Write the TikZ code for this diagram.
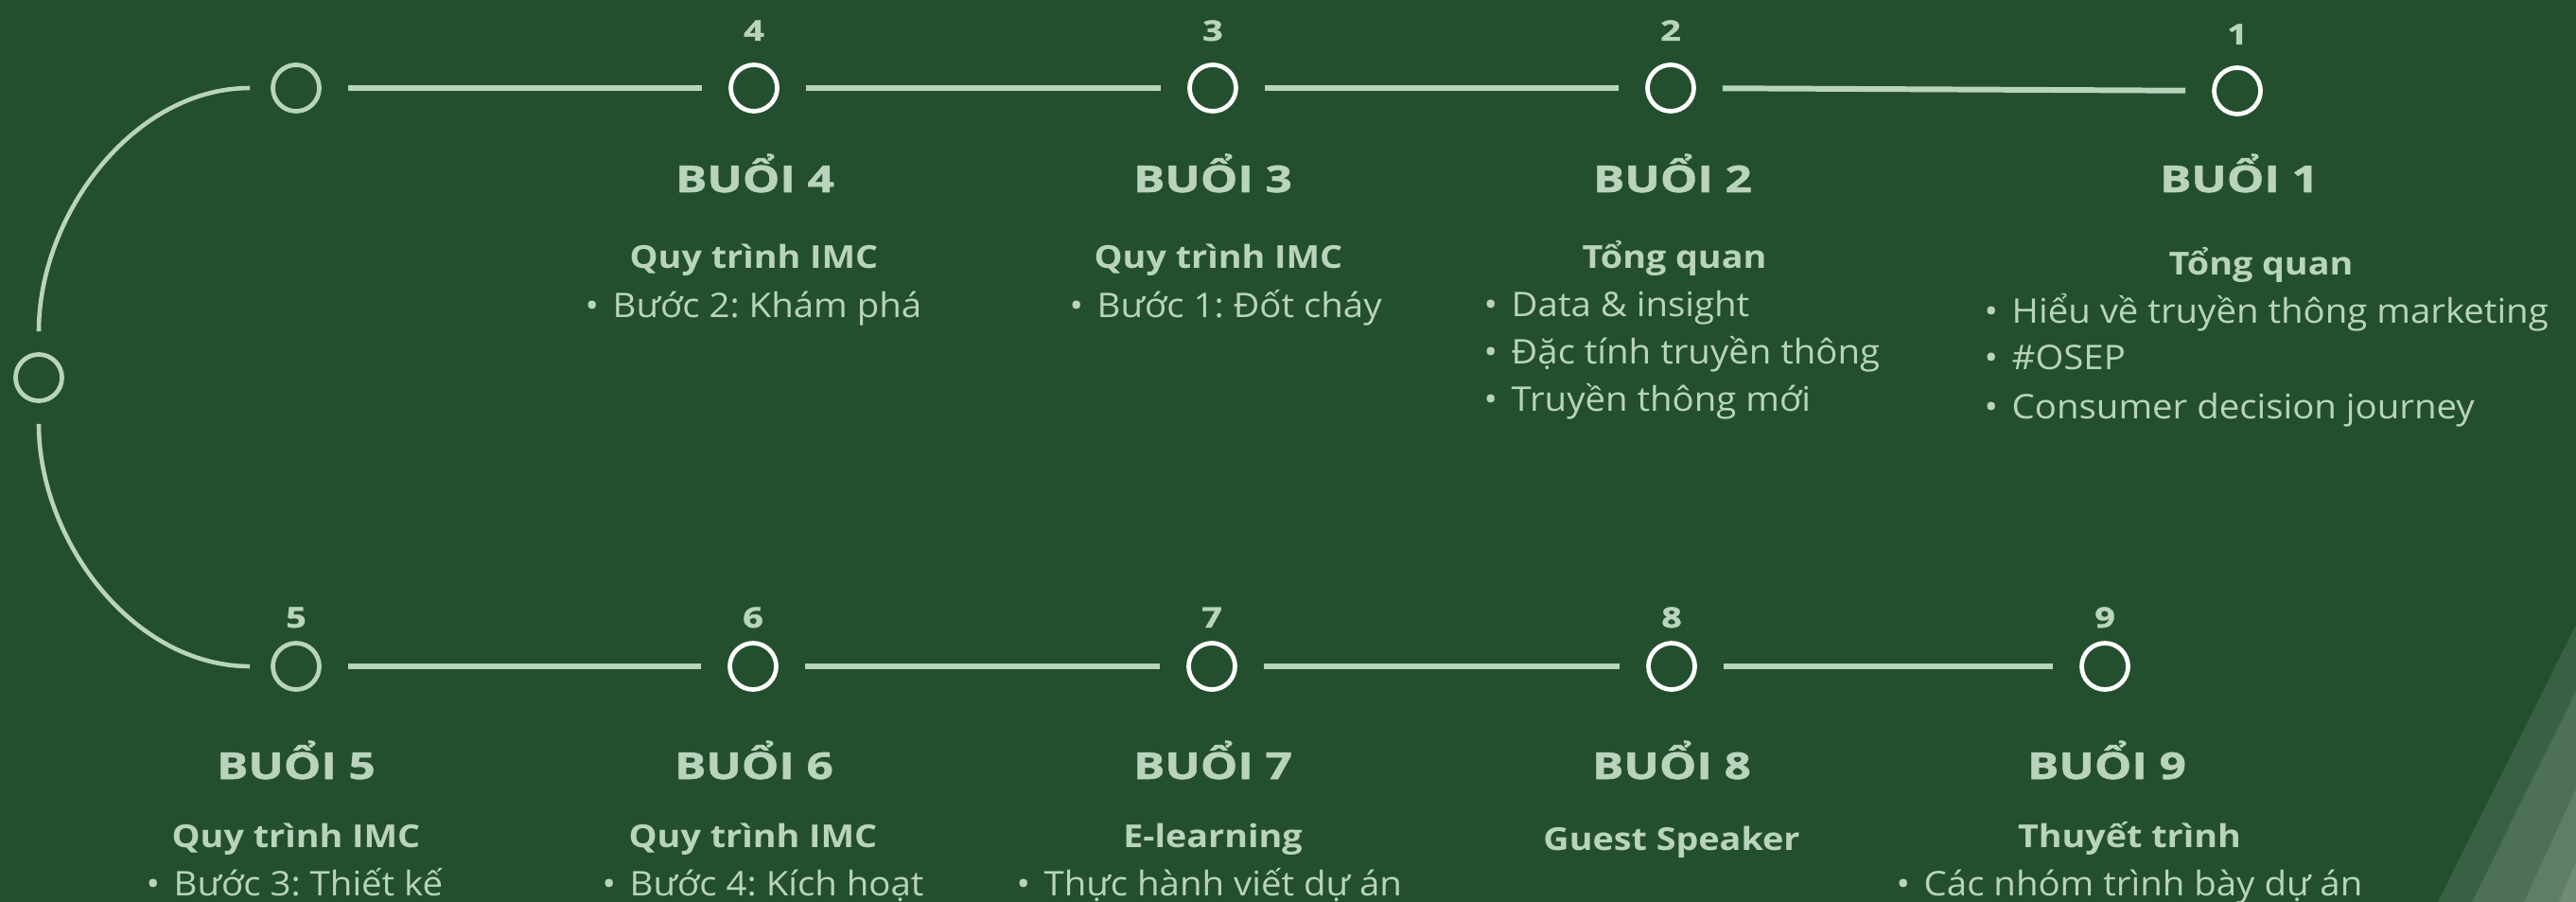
\documentclass[tikz,border=0pt]{standalone}
\usepackage{fontspec}
\usepackage{tikz}
\usepackage{xcolor}
\setmainfont{Open Sans}
\newfontfamily\titleFont[FakeStretch=1.27,BoldFeatures={FakeBold=1.3}]{Open Sans}
\newfontfamily\topicFont[FakeStretch=1.13]{Open Sans}
\newfontfamily\bodyFont[FakeStretch=1.07]{Open Sans}
\frenchspacing
\definecolor{boardGreen}{RGB}{35,79,46}
\definecolor{paleGreen}{RGB}{185,212,187}
\tikzstyle{sessionDot}=[draw=white,circle,line width=1.35pt,minimum size=0.49cm,inner sep=0pt]
\tikzstyle{bendDot}=[draw=paleGreen,circle,line width=1.35pt,minimum size=0.49cm,inner sep=0pt]
\tikzstyle{timeLine}=[draw=paleGreen,line width=1.7pt,shorten <=0.28cm,shorten >=0.28cm]
\tikzstyle{bendLine}=[draw=paleGreen,line width=1.3pt,shorten <=0.22cm,shorten >=0.22cm]
\tikzstyle{numLabel}=[text=paleGreen,font=\titleFont\bfseries\fontsize{8.5}{9}\selectfont,anchor=base,inner sep=0pt]
\tikzstyle{titleText}=[text=paleGreen,font=\titleFont\bfseries\fontsize{11.1}{12}\selectfont,anchor=base,inner sep=0pt]
\tikzstyle{topicText}=[text=paleGreen,font=\topicFont\bfseries\fontsize{9.5}{10}\selectfont,anchor=base,inner sep=0pt]
\tikzstyle{bulletText}=[text=paleGreen,font=\bodyFont\fontsize{10.2}{11}\selectfont,anchor=base west,inner sep=0pt]
\tikzstyle{stripe}=[fill=white,opacity=0.1]
\newcommand{\bulletItem}[1]{\makebox[0.29cm][l]{•}#1}

\begin{document}
\begin{tikzpicture}
    \useasboundingbox (0,0) rectangle (27.23,-9.53);
    \fill[boardGreen] (0,0) rectangle (27.23,-9.53);

    % Stripes in the corner
    \fill[stripe] (27.23,-6.60) -- (25.77,-9.53) -- (27.23,-9.53) -- cycle;
    \fill[stripe] (27.23,-7.30) -- (26.13,-9.53) -- (27.23,-9.53) -- cycle;
    \fill[stripe] (27.23,-8.33) -- (26.68,-9.53) -- (27.23,-9.53) -- cycle;
    \fill[stripe] (27.23,-9.10) -- (27.05,-9.53) -- (27.23,-9.53) -- cycle;

    % Bend dots
    \node[bendDot] (bendTop) at (3.13,-0.93) {};
    \node[bendDot] (bendMid) at (0.41,-3.99) {};
    \draw[bendLine] (bendTop) to[out=180,in=90] (bendMid);

    % Top row
    \node[sessionDot] (s4) at (7.97,-0.93) {};
    \node[sessionDot] (s3) at (12.82,-0.93) {};
    \node[sessionDot] (s2) at (17.66,-0.93) {};
    \node[sessionDot] (s1) at (23.65,-0.96) {};
    \draw[timeLine] (bendTop) -- (s4);
    \draw[timeLine] (s4) -- (s3);
    \draw[timeLine] (s3) -- (s2);
    \draw[timeLine] (s2) -- (s1);

    \node[numLabel] (n4) at (7.97,-0.43) {4};
    \node[numLabel] (n3) at (12.82,-0.43) {3};
    \node[numLabel] (n2) at (17.66,-0.43) {2};
    \node[numLabel] (n1) at (23.65,-0.47) {1};

    \node[titleText] (t4) at (7.98,-2.03) {BUỔI 4};
    \node[titleText] (t3) at (12.82,-2.03) {BUỔI 3};
    \node[titleText] (t2) at (17.68,-2.03) {BUỔI 2};
    \node[titleText] (t1) at (23.67,-2.03) {BUỔI 1};

    \node[topicText] (p4) at (7.97,-2.84) {Quy trình IMC};
    \node[topicText] (p3) at (12.88,-2.84) {Quy trình IMC};
    \node[topicText] (p2) at (17.70,-2.84) {Tổng quan};
    \node[topicText] (p1) at (23.90,-2.91) {Tổng quan};

    \node[bulletText] (b4a) at (6.18,-3.36) {\bulletItem{Bước 2: Khám phá}};
    \node[bulletText] (b3a) at (11.30,-3.36) {\bulletItem{Bước 1: Đốt cháy}};
    \node[bulletText] (b2a) at (15.68,-3.35) {\bulletItem{Data \& insight}};
    \node[bulletText] (b2b) at (15.68,-3.85) {\bulletItem{Đặc tính truyền thông}};
    \node[bulletText] (b2c) at (15.68,-4.34) {\bulletItem{Truyền thông mới}};
    \node[bulletText] (b1a) at (20.97,-3.41) {\bulletItem{Hiểu về truyền thông marketing}};
    \node[bulletText] (b1b) at (20.97,-3.91) {\bulletItem{\#OSEP}};
    \node[bulletText] (b1c) at (20.97,-4.43) {\bulletItem{Consumer decision journey}};

    % Bottom row
    \node[bendDot] (s5) at (3.13,-7.04) {};
    \node[sessionDot] (s6) at (7.96,-7.04) {};
    \node[sessionDot] (s7) at (12.81,-7.04) {};
    \node[sessionDot] (s8) at (17.67,-7.04) {};
    \node[sessionDot] (s9) at (22.25,-7.04) {};
    \draw[bendLine] (bendMid) to[out=270,in=180] (s5);
    \draw[timeLine] (s5) -- (s6);
    \draw[timeLine] (s6) -- (s7);
    \draw[timeLine] (s7) -- (s8);
    \draw[timeLine] (s8) -- (s9);

    \node[numLabel] (n5) at (3.13,-6.63) {5};
    \node[numLabel] (n6) at (7.96,-6.63) {6};
    \node[numLabel] (n7) at (12.81,-6.63) {7};
    \node[numLabel] (n8) at (17.67,-6.63) {8};
    \node[numLabel] (n9) at (22.25,-6.63) {9};

    \node[titleText] (t5) at (3.13,-8.23) {BUỔI 5};
    \node[titleText] (t6) at (7.97,-8.23) {BUỔI 6};
    \node[titleText] (t7) at (12.82,-8.23) {BUỔI 7};
    \node[titleText] (t8) at (17.67,-8.23) {BUỔI 8};
    \node[titleText] (t9) at (22.27,-8.23) {BUỔI 9};

    \node[topicText] (p5) at (3.13,-8.95) {Quy trình IMC};
    \node[topicText] (p6) at (7.96,-8.95) {Quy trình IMC};
    \node[topicText] (p7) at (12.82,-8.95) {E-learning};
    \node[topicText] (p8) at (17.67,-8.98) {Guest Speaker};
    \node[topicText] (p9) at (22.51,-8.95) {Thuyết trình};

    \node[bulletText] (b5a) at (1.54,-9.46) {\bulletItem{Bước 3: Thiết kế}};
    \node[bulletText] (b6a) at (6.36,-9.46) {\bulletItem{Bước 4: Kích hoạt}};
    \node[bulletText] (b7a) at (10.74,-9.46) {\bulletItem{Thực hành viết dự án}};
    \node[bulletText] (b9a) at (20.04,-9.46) {\bulletItem{Các nhóm trình bày dự án}};

\end{tikzpicture}
\end{document}
